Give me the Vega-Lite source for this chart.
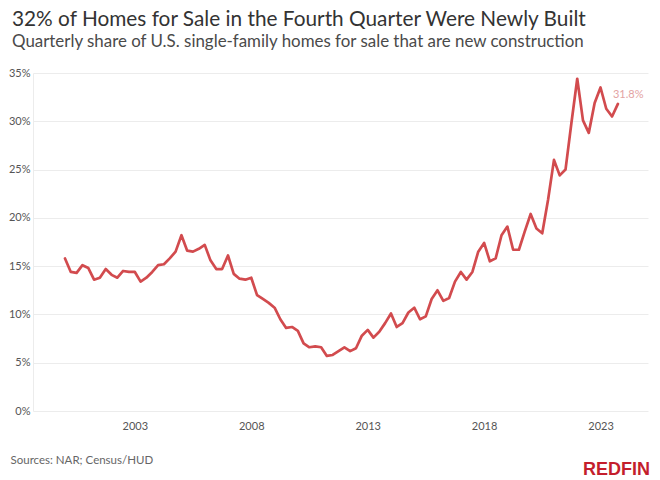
{
  "$schema": "https://vega.github.io/schema/vega-lite/v6.json",
  "autosize": {"type": "none"},
  "width": 615,
  "height": 338,
  "padding": {"left": 33, "top": 73, "right": 12, "bottom": 69},
  "background": "white",
  "config": {
    "view": {"stroke": null},
    "font": "Lato"
  },
  "title": {
    "text": "32% of Homes for Sale in the Fourth Quarter Were Newly Built",
    "subtitle": "Quarterly share of U.S. single-family homes for sale that are new construction",
    "anchor": "start",
    "frame": "group",
    "dx": -21,
    "offset": 16.5,
    "font": "Lato",
    "fontSize": 20.8,
    "fontWeight": "normal",
    "color": "#333333",
    "subtitleFont": "Lato",
    "subtitleFontSize": 16.9,
    "subtitleColor": "#4a4a4a",
    "subtitlePadding": 3
  },
  "datasets": {
    "share": [
      {"date": "2000-01-01", "share": 0.158},
      {"date": "2000-04-01", "share": 0.144},
      {"date": "2000-07-01", "share": 0.143},
      {"date": "2000-10-01", "share": 0.151},
      {"date": "2001-01-01", "share": 0.148},
      {"date": "2001-04-01", "share": 0.136},
      {"date": "2001-07-01", "share": 0.138},
      {"date": "2001-10-01", "share": 0.147},
      {"date": "2002-01-01", "share": 0.141},
      {"date": "2002-04-01", "share": 0.138},
      {"date": "2002-07-01", "share": 0.145},
      {"date": "2002-10-01", "share": 0.144},
      {"date": "2003-01-01", "share": 0.144},
      {"date": "2003-04-01", "share": 0.134},
      {"date": "2003-07-01", "share": 0.138},
      {"date": "2003-10-01", "share": 0.144},
      {"date": "2004-01-01", "share": 0.151},
      {"date": "2004-04-01", "share": 0.152},
      {"date": "2004-07-01", "share": 0.158},
      {"date": "2004-10-01", "share": 0.165},
      {"date": "2005-01-01", "share": 0.182},
      {"date": "2005-04-01", "share": 0.166},
      {"date": "2005-07-01", "share": 0.165},
      {"date": "2005-10-01", "share": 0.168},
      {"date": "2006-01-01", "share": 0.172},
      {"date": "2006-04-01", "share": 0.156},
      {"date": "2006-07-01", "share": 0.147},
      {"date": "2006-10-01", "share": 0.147},
      {"date": "2007-01-01", "share": 0.161},
      {"date": "2007-04-01", "share": 0.142},
      {"date": "2007-07-01", "share": 0.137},
      {"date": "2007-10-01", "share": 0.136},
      {"date": "2008-01-01", "share": 0.138},
      {"date": "2008-04-01", "share": 0.120},
      {"date": "2008-07-01", "share": 0.116},
      {"date": "2008-10-01", "share": 0.112},
      {"date": "2009-01-01", "share": 0.107},
      {"date": "2009-04-01", "share": 0.095},
      {"date": "2009-07-01", "share": 0.086},
      {"date": "2009-10-01", "share": 0.087},
      {"date": "2010-01-01", "share": 0.083},
      {"date": "2010-04-01", "share": 0.070},
      {"date": "2010-07-01", "share": 0.066},
      {"date": "2010-10-01", "share": 0.067},
      {"date": "2011-01-01", "share": 0.066},
      {"date": "2011-04-01", "share": 0.057},
      {"date": "2011-07-01", "share": 0.058},
      {"date": "2011-10-01", "share": 0.062},
      {"date": "2012-01-01", "share": 0.066},
      {"date": "2012-04-01", "share": 0.062},
      {"date": "2012-07-01", "share": 0.065},
      {"date": "2012-10-01", "share": 0.078},
      {"date": "2013-01-01", "share": 0.084},
      {"date": "2013-04-01", "share": 0.076},
      {"date": "2013-07-01", "share": 0.082},
      {"date": "2013-10-01", "share": 0.091},
      {"date": "2014-01-01", "share": 0.101},
      {"date": "2014-04-01", "share": 0.087},
      {"date": "2014-07-01", "share": 0.091},
      {"date": "2014-10-01", "share": 0.102},
      {"date": "2015-01-01", "share": 0.107},
      {"date": "2015-04-01", "share": 0.095},
      {"date": "2015-07-01", "share": 0.098},
      {"date": "2015-10-01", "share": 0.116},
      {"date": "2016-01-01", "share": 0.125},
      {"date": "2016-04-01", "share": 0.114},
      {"date": "2016-07-01", "share": 0.117},
      {"date": "2016-10-01", "share": 0.134},
      {"date": "2017-01-01", "share": 0.144},
      {"date": "2017-04-01", "share": 0.136},
      {"date": "2017-07-01", "share": 0.144},
      {"date": "2017-10-01", "share": 0.165},
      {"date": "2018-01-01", "share": 0.174},
      {"date": "2018-04-01", "share": 0.155},
      {"date": "2018-07-01", "share": 0.158},
      {"date": "2018-10-01", "share": 0.182},
      {"date": "2019-01-01", "share": 0.191},
      {"date": "2019-04-01", "share": 0.167},
      {"date": "2019-07-01", "share": 0.167},
      {"date": "2019-10-01", "share": 0.186},
      {"date": "2020-01-01", "share": 0.204},
      {"date": "2020-04-01", "share": 0.189},
      {"date": "2020-07-01", "share": 0.184},
      {"date": "2020-10-01", "share": 0.219},
      {"date": "2021-01-01", "share": 0.260},
      {"date": "2021-04-01", "share": 0.244},
      {"date": "2021-07-01", "share": 0.250},
      {"date": "2021-10-01", "share": 0.298},
      {"date": "2022-01-01", "share": 0.344},
      {"date": "2022-04-01", "share": 0.301},
      {"date": "2022-07-01", "share": 0.288},
      {"date": "2022-10-01", "share": 0.319},
      {"date": "2023-01-01", "share": 0.335},
      {"date": "2023-04-01", "share": 0.313},
      {"date": "2023-07-01", "share": 0.305},
      {"date": "2023-10-01", "share": 0.318, "label": "31.8%"}
    ],
    "brand": [{"name": "REDFIN"}]
  },
  "layer": [
    {
      "data": {"name": "share"},
      "mark": {"type": "line", "color": "#d24b4e", "strokeWidth": 2.7, "strokeCap": "round", "strokeJoin": "round"},
      "encoding": {
        "x": {
          "field": "date",
          "type": "temporal",
          "scale": {"type": "utc", "domain": [{"year": 1998, "month": 8, "date": 17, "utc": true}, {"year": 2025, "month": 1, "date": 15, "utc": true}]},
          "axis": {
            "title": "Sources: NAR; Census/HUD",
            "titleAnchor": "start",
            "titleAlign": "left",
            "titleBaseline": "alphabetic",
            "titleX": -23,
            "titleY": 52,
            "titleFont": "Lato",
            "titleFontSize": 11.5,
            "titleFontWeight": "normal",
            "titleColor": "#666666",
            "values": [
              {"year": 2003, "month": 1, "date": 1, "utc": true},
              {"year": 2008, "month": 1, "date": 1, "utc": true},
              {"year": 2013, "month": 1, "date": 1, "utc": true},
              {"year": 2018, "month": 1, "date": 1, "utc": true},
              {"year": 2023, "month": 1, "date": 1, "utc": true}
            ],
            "format": "%Y",
            "grid": false,
            "domain": false,
            "ticks": false,
            "labelPadding": 9,
            "labelFont": "Lato",
            "labelFontSize": 11,
            "labelColor": "#555555"
          }
        },
        "y": {
          "field": "share",
          "type": "quantitative",
          "scale": {"domain": [0, 0.35], "nice": false},
          "axis": {
            "title": null,
            "values": [0, 0.05, 0.1, 0.15, 0.2, 0.25, 0.3, 0.35],
            "format": ".0%",
            "grid": true,
            "gridColor": "#ececec",
            "domain": true,
            "domainColor": "#ececec",
            "ticks": false,
            "labelPadding": 3,
            "labelFont": "Lato",
            "labelFontSize": 11,
            "labelColor": "#555555"
          }
        }
      }
    },
    {
      "data": {"name": "share"},
      "transform": [{"filter": "isValid(datum.label)"}],
      "mark": {"type": "text", "align": "left", "baseline": "alphabetic", "dx": -5, "dy": -6, "font": "Lato", "fontSize": 11, "color": "#e3a3a3"},
      "encoding": {
        "x": {"field": "date", "type": "temporal"},
        "y": {"field": "share", "type": "quantitative"},
        "text": {"field": "label"}
      }
    },
    {
      "data": {"name": "brand"},
      "mark": {"type": "text", "align": "right", "baseline": "alphabetic", "font": "Liberation Sans", "fontSize": 18, "fontWeight": "bold", "color": "#c41e2c"},
      "encoding": {
        "x": {"datum": {"year": 2025, "month": 2, "date": 15, "utc": true}, "type": "temporal"},
        "y": {"datum": -0.0663, "type": "quantitative"},
        "text": {"field": "name"}
      }
    }
  ]
}
